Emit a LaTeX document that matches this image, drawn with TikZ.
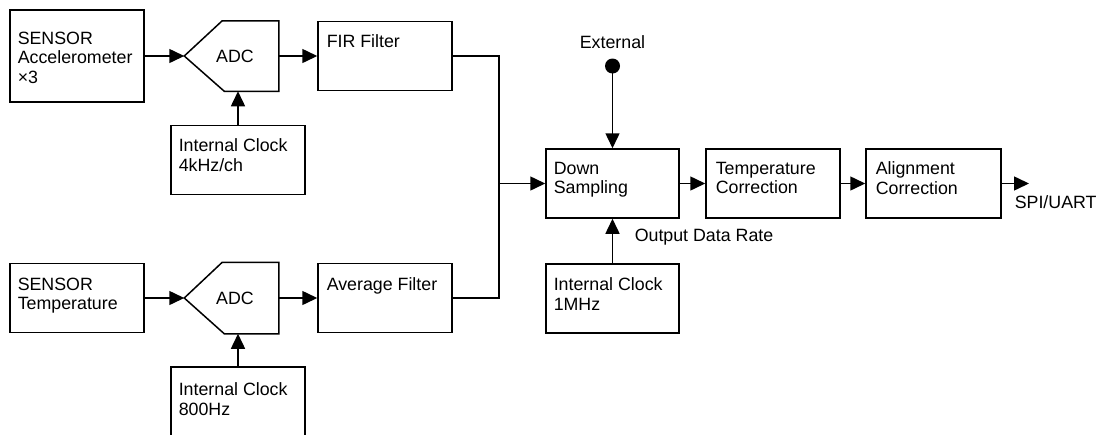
\documentclass[tikz,border=0pt]{standalone}
\usepackage{fontspec}
\setmainfont{Liberation Sans}
\usetikzlibrary{arrows.meta,calc}
\begin{document}
\begin{tikzpicture}[x=1pt,y=-1pt,line width=1.5pt,
  box/.style={draw, minimum width=134pt, minimum height=69pt, inner sep=0pt},
  txt/.style={inner sep=0pt, align=left, anchor=north west, font=\fontsize{17.8}{19.5}\selectfont},
  lbl/.style={inner sep=0pt, font=\fontsize{17.8}{19.5}\selectfont},
  arr/.style={-{Triangle[length=15pt,width=14pt]}},
  dot/.style={circle, fill, inner sep=0pt, minimum size=15pt}]
\clip (0,0) rectangle (1099,434);
\fill[white] (0,0) rectangle (1099,434);
% boxes
\node[box, minimum height=92pt] (sa) at (77,56) {};
\node[box] (clk1) at (238,160) {};
\node[box] (fir) at (385,56) {};
\node[box] (st) at (77,298) {};
\node[box] (avg) at (385,298) {};
\node[box, minimum height=70pt] (clk2) at (238,402) {};
\node[box, minimum width=133pt] (ds) at (612.5,183.5) {};
\node[box, minimum width=133pt] (clk3) at (612.5,298.5) {};
\node[box] (tc) at (773,183.5) {};
\node[box, minimum width=135pt] (ac) at (933.5,183.5) {};
% ADC shapes
\node[inner sep=0pt, minimum width=93pt, minimum height=69pt, lbl] (adc1) at (231.5,56) {\hspace{7pt}ADC};
\draw (adc1.west) -- ([xshift=38pt]adc1.north west) -- (adc1.north east) -- (adc1.south east) -- ([xshift=40pt]adc1.south west) -- cycle;
\node[inner sep=0pt, minimum width=93pt, minimum height=70pt, lbl] (adc2) at (231.5,298) {\hspace{7pt}ADC};
\draw (adc2.west) -- ([xshift=38pt]adc2.north west) -- (adc2.north east) -- (adc2.south east) -- ([xshift=40pt]adc2.south west) -- cycle;
% texts
\node[txt] (sat) at (17,31) {SENSOR\\Accelerometer\\×3};
\node[txt] (firt) at (326,34) {FIR Filter};
\node[txt] (clk1t) at (178,138) {Internal Clock\\4kHz/ch};
\node[txt] (stt) at (17,277) {SENSOR\\Temperature};
\node[txt] (avgt) at (326,277) {Average Filter};
\node[txt] (clk2t) at (178,382) {Internal Clock\\800Hz};
\node[txt] (dst) at (553,161) {Down\\Sampling};
\node[txt] (clk3t) at (553,277) {Internal Clock\\1MHz};
\node[txt] (tct) at (715,161) {Temperature\\Correction};
\node[txt] (act) at (875,161) {Alignment\\Correction};
% external
\node[dot] (ext) at (612.5,66) {};
\node[lbl] (extl) at (612.5,42) {External};
\node[lbl, anchor=west] (odr) at (634,237) {Output Data Rate};
\node[lbl, anchor=west] (spi) at (1014,202) {SPI/UART};
\coordinate (jn) at (499,183.5);
\coordinate (out) at (1029,183.5);
% connectors
\draw[arr] (sa.east) -- (adc1.west);
\draw[arr] (st.east) -- (adc2.west);
\draw[arr] (clk1.north) -- (clk1.north |- adc1.south);
\draw[arr] (clk2.north) -- (clk2.north |- adc2.south);
\draw[arr] (adc1.east) -- (fir.west);
\draw[arr] (adc2.east) -- (avg.west);
\draw[arr] (fir.east) -| (jn) -- (ds.west);
\draw (avg.east) -| (jn);
\draw[arr] (ext.center) -- (ds.north);
\draw[arr] (clk3.north) -- (ds.south);
\draw[arr] (ds.east) -- (tc.west);
\draw[arr] (tc.east) -- (ac.west);
\draw[arr] (ac.east) -- (out);
\end{tikzpicture}
\end{document}
